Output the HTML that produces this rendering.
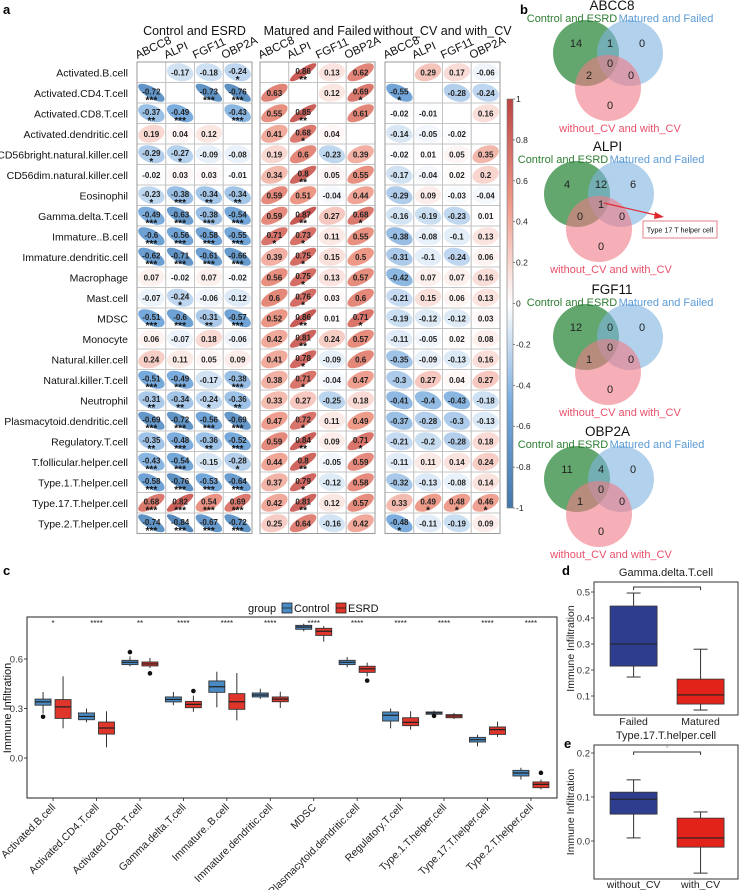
<!DOCTYPE html>
<html><head><meta charset="utf-8"><style>
html,body{margin:0;padding:0;background:#fff;}
svg{display:block;font-family:"Liberation Sans",Arial,sans-serif;}
</style></head><body>
<svg id="fig" width="741" height="890" viewBox="0 0 741 890" xmlns="http://www.w3.org/2000/svg">
<text x="3" y="14" font-size="13" font-weight="bold">a</text>
<text x="520" y="14" font-size="13" font-weight="bold">b</text>
<text x="3" y="575" font-size="13" font-weight="bold">c</text>
<text x="562" y="575" font-size="13" font-weight="bold">d</text>
<text x="564" y="748" font-size="13" font-weight="bold">e</text>
<g id="pa"></g>
<g id="pb"></g>
<g id="pc"></g>
<g id="pd"></g>
<g id="pe"></g>
</svg>
<script>
const rowNames=["Activated.B.cell","Activated.CD4.T.cell","Activated.CD8.T.cell","Activated.dendritic.cell","CD56bright.natural.killer.cell","CD56dim.natural.killer.cell","Eosinophil","Gamma.delta.T.cell","Immature..B.cell","Immature.dendritic.cell","Macrophage","Mast.cell","MDSC","Monocyte","Natural.killer.cell","Natural.killer.T.cell","Neutrophil","Plasmacytoid.dendritic.cell","Regulatory.T.cell","T.follicular.helper.cell","Type.1.T.helper.cell","Type.17.T.helper.cell","Type.2.T.helper.cell"];
const genes=["ABCC8","ALPI","FGF11","OBP2A"];
const panelTitles=["Control and ESRD","Matured and Failed","without_CV and with_CV"];
const corrCE=[[null,-0.17,-0.18,-0.24],[-0.72,null,-0.73,-0.76],[-0.37,-0.49,null,-0.43],[0.19,0.04,0.12,null],[-0.29,-0.27,-0.09,-0.08],[-0.02,0.03,0.03,-0.01],[-0.23,-0.38,-0.34,-0.34],[-0.49,-0.63,-0.38,-0.54],[-0.6,-0.56,-0.58,-0.55],[-0.62,-0.71,-0.61,-0.66],[0.07,-0.02,0.07,-0.02],[-0.07,-0.24,-0.06,-0.12],[-0.51,-0.6,-0.31,-0.57],[0.06,-0.07,0.18,-0.06],[0.24,0.11,0.05,0.09],[-0.51,-0.49,-0.17,-0.38],[-0.31,-0.34,-0.24,-0.36],[-0.69,-0.72,-0.56,-0.69],[-0.35,-0.48,-0.36,-0.52],[-0.43,-0.54,-0.15,-0.28],[-0.58,-0.76,-0.53,-0.64],[0.68,0.82,0.54,0.69],[-0.74,-0.84,-0.67,-0.72]];
const starsCE=[[0,0,0,1],[3,0,3,3],[2,3,0,3],[0,0,0,0],[1,1,0,0],[0,0,0,0],[1,3,2,2],[3,3,3,3],[3,3,3,3],[3,3,3,3],[0,0,0,0],[0,1,0,0],[3,3,2,3],[0,0,0,0],[0,0,0,0],[3,3,0,3],[2,2,1,2],[3,3,3,3],[2,3,2,3],[3,3,0,1],[3,3,3,3],[3,3,3,3],[3,3,3,3]];
const corrMF=[[null,0.86,0.13,0.62],[0.63,null,0.12,0.69],[0.55,0.85,null,0.61],[0.41,0.68,0.04,null],[0.19,0.6,-0.23,0.39],[0.34,0.8,0.05,0.55],[0.59,0.51,-0.04,0.44],[0.59,0.87,0.27,0.68],[0.71,0.73,0.11,0.55],[0.39,0.75,0.15,0.5],[0.56,0.75,0.13,0.57],[0.6,0.76,0.03,0.6],[0.52,0.86,0.01,0.71],[0.42,0.81,0.24,0.57],[0.41,0.78,-0.09,0.6],[0.38,0.71,-0.04,0.47],[0.33,0.27,-0.25,0.18],[0.47,0.72,0.11,0.49],[0.59,0.84,0.09,0.71],[0.44,0.8,-0.05,0.59],[0.37,0.79,-0.12,0.58],[0.42,0.81,0.12,0.57],[0.25,0.64,-0.16,0.42]];
const starsMF=[[0,2,0,0],[0,0,0,1],[0,2,0,0],[0,1,0,0],[0,0,0,0],[0,2,0,0],[0,0,0,0],[0,2,0,1],[1,1,0,0],[0,1,0,0],[0,1,0,0],[0,1,0,0],[0,2,0,1],[0,2,0,0],[0,1,0,0],[0,1,0,0],[0,0,0,0],[0,1,0,0],[0,2,0,1],[0,2,0,0],[0,1,0,0],[0,2,0,0],[0,0,0,0]];
const corrWC=[[null,0.29,0.17,-0.06],[-0.55,null,-0.28,-0.24],[-0.02,-0.01,null,0.16],[-0.14,-0.05,-0.02,null],[-0.02,0.01,0.05,0.35],[-0.17,-0.04,0.02,0.2],[-0.29,0.09,-0.03,-0.04],[-0.16,-0.19,-0.23,0.01],[-0.38,-0.08,-0.1,0.13],[-0.31,-0.1,-0.24,0.06],[-0.42,0.07,0.07,0.16],[-0.21,0.15,0.06,0.13],[-0.19,-0.12,-0.12,0.03],[-0.11,-0.05,0.02,0.08],[-0.35,-0.09,-0.13,0.16],[-0.3,0.27,0.04,0.27],[-0.41,-0.4,-0.43,-0.18],[-0.37,-0.28,-0.3,-0.13],[-0.21,-0.2,-0.28,0.18],[-0.11,0.11,0.14,0.24],[-0.32,-0.13,-0.08,0.14],[0.33,0.49,0.48,0.46],[-0.48,-0.11,-0.19,0.09]];
const starsWC=[[0,0,0,0],[1,0,0,0],[0,0,0,0],[0,0,0,0],[0,0,0,0],[0,0,0,0],[0,0,0,0],[0,0,0,0],[0,0,0,0],[0,0,0,0],[0,0,0,0],[0,0,0,0],[0,0,0,0],[0,0,0,0],[0,0,0,0],[0,0,0,0],[0,0,0,0],[0,0,0,0],[0,0,0,0],[0,0,0,0],[0,0,0,0],[0,1,1,1],[1,0,0,0]];
const colorbarTicks=[1,0.8,0.6,0.4,0.2,0,-0.2,-0.4,-0.6,-0.8,-1];
// venn counts: A only, AB, B only, ABC, AC, BC, C only
const vennTitles=["ABCC8","ALPI","FGF11","OBP2A"];
const vennCounts=[[14,1,0,0,2,0,0],[4,12,6,1,0,0,0],[12,0,0,0,1,0,0],[11,4,0,0,1,0,0]];
// panel c
const cCats=["Activated.B.cell","Activated.CD4.T.cell","Activated.CD8.T.cell","Gamma.delta.T.cell","Immature..B.cell","Immature.dendritic.cell","MDSC","Plasmacytoid.dendritic.cell","Regulatory.T.cell","Type.1.T.helper.cell","Type.17.T.helper.cell","Type.2.T.helper.cell"];
const cSig=["*","****","**","****","****","****","****","****","****","****","****","****"];
const cControl=[[0.27,0.32,0.34,0.357,0.40],[0.216,0.232,0.252,0.273,0.30],[0.556,0.566,0.58,0.592,0.616],[0.32,0.34,0.355,0.37,0.40],[0.307,0.398,0.432,0.467,0.523],[0.358,0.37,0.382,0.394,0.42],[0.768,0.78,0.794,0.804,0.814],[0.55,0.566,0.58,0.592,0.612],[0.18,0.224,0.259,0.279,0.30],[0.255,0.265,0.273,0.279,0.287],[0.071,0.097,0.111,0.125,0.141],[-0.131,-0.109,-0.091,-0.075,-0.059]];
const cESRD=[[0.18,0.24,0.31,0.354,0.495],[0.065,0.145,0.182,0.218,0.283],[0.545,0.558,0.57,0.582,0.606],[0.28,0.305,0.325,0.343,0.378],[0.228,0.295,0.341,0.39,0.515],[0.303,0.341,0.357,0.37,0.402],[0.705,0.743,0.768,0.786,0.80],[0.495,0.519,0.54,0.556,0.578],[0.172,0.196,0.216,0.244,0.283],[0.236,0.244,0.255,0.263,0.273],[0.127,0.143,0.172,0.188,0.22],[-0.19,-0.18,-0.16,-0.145,-0.13]];
const cOutCtrl=[[0.25],[],[0.642],[],[],[],[],[],[],[0.255],[],[]];
const cOutESRD=[[],[],[0.513],[0.406],[],[],[],[0.469],[],[],[],[-0.09]];
const cYTicks=[0.0,0.3,0.6];
const cYTickLabels=["0.0","0.3","0.6"];
// panel d
const dCats=["Failed","Matured"];
const dStats=[[0.173,0.215,0.30,0.446,0.496],[0.046,0.069,0.104,0.165,0.28]];
const dYTicks=[0.1,0.2,0.3,0.4,0.5];
// panel e
const eCats=["without_CV","with_CV"];
const eStats=[[0.007,0.061,0.095,0.111,0.139],[-0.073,-0.014,0.007,0.052,0.066]];
const eYTicks=[0.0,0.1,0.2];

const NS="http://www.w3.org/2000/svg";
function mk(tag,attrs,parent,txt){const e=document.createElementNS(NS,tag);for(const k in attrs)e.setAttribute(k,attrs[k]);if(txt!==undefined)e.textContent=txt;parent.appendChild(e);return e;}
function lerp(a,b,t){return a+(b-a)*t;}
function hex(h){return [parseInt(h.slice(1,3),16),parseInt(h.slice(3,5),16),parseInt(h.slice(5,7),16)];}
const stops=[[-1,"#4477AA"],[-0.5,"#77AADD"],[0,"#FFFFFF"],[0.5,"#EE9988"],[1,"#BB4444"]];
function corrColor(r){for(let i=0;i<stops.length-1;i++){if(r<=stops[i+1][0]){const t=(r-stops[i][0])/(stops[i+1][0]-stops[i][0]);const a=hex(stops[i][1]),b=hex(stops[i+1][1]);return `rgb(${Math.round(lerp(a[0],b[0],t))},${Math.round(lerp(a[1],b[1],t))},${Math.round(lerp(a[2],b[2],t))})`;}}return stops[4][1];}

// ---------- Panel a ----------
const pa=document.getElementById('pa');
const rowTop=62,rowH=20.5,colW=28.75,panelLeft=[137,260,385];
const corrSets=[corrCE,corrMF,corrWC],starSets=[starsCE,starsMF,starsWC];
rowNames.forEach((n,i)=>{const t=mk('text',{x:128,y:rowTop+rowH*i+rowH/2+4,'text-anchor':'end','font-size':10.5,fill:'#111'},pa,n);

});
for(let p=0;p<3;p++){
  const L=panelLeft[p];
  const g=mk('g',{},pa);
  
  
  const tt=mk('text',{x:L+colW*2,y:35,'text-anchor':'middle','font-size':12.5,fill:'#111'},g,panelTitles[p]);
  
  
  genes.forEach((gn,j)=>{const cx=L+colW*j+colW/2;const h=mk('text',{x:cx-14,y:59,'font-size':11.5,fill:'#111',transform:`rotate(-25 ${cx-14} 59)`},g,gn);
  
  });
  for(let i=0;i<23;i++)for(let j=0;j<4;j++){
    const x=L+colW*j,y=rowTop+rowH*i,cx=x+colW/2,cy=y+rowH/2;
    const cell=mk('rect',{x:x,y:y,width:colW,height:rowH,fill:'#fff',stroke:'#c4c4c4','stroke-width':1},g);
    
    
    const r=corrSets[p][i][j];
    if(r===null)continue;
    const rr=Math.max(-0.97,Math.min(0.97,r));
    const eg=mk('g',{transform:`translate(${cx},${cy}) scale(${colW*0.46},${rowH*0.44}) rotate(-45)`},g);
    const el=mk('ellipse',{cx:0,cy:0,rx:Math.sqrt(1+rr),ry:Math.sqrt(1-rr),fill:corrColor(r)},eg);
    
    
    const s=starSets[p][i][j];
    const lbl=String(r);
    const nt=mk('text',{x:cx,y:s?cy+1.5:cy+3,'text-anchor':'middle','font-size':8,'font-weight':'bold',fill:'#222'},g,lbl);
    
    
    if(s){const st=mk('text',{x:cx,y:cy+10.5,'text-anchor':'middle','font-size':10,'font-weight':'bold',fill:'#111'},g,'*'.repeat(s));
    
    }
  }
  const b=mk('rect',{x:L,y:rowTop,width:colW*4,height:rowH*23,fill:'none',stroke:'#999','stroke-width':1},g);
  
  
}
// colorbar
const cbTop=99,cbBot=508,cbX=507,cbW=6;
const defs=mk('defs',{},pa);
const lg=mk('linearGradient',{id:'cbg',x1:0,y1:0,x2:0,y2:1},defs);
stops.slice().reverse().forEach(s=>mk('stop',{offset:((1-s[0])/2*100)+'%','stop-color':s[1]},lg));
const cb=mk('rect',{x:cbX,y:cbTop,width:cbW,height:cbBot-cbTop,fill:'url(#cbg)',stroke:'#777','stroke-width':0.6},pa);


function cbY(v){return cbTop+(1-v)/2*(cbBot-cbTop);}
colorbarTicks.forEach(v=>{const y=cbY(v);mk('line',{x1:cbX+cbW,x2:cbX+cbW+2,y1:y,y2:y,stroke:'#555','stroke-width':0.7},pa);
const t=mk('text',{x:cbX+cbW+3,y:y+3,'font-size':8.5,fill:'#222'},pa,String(v));

});

// ---------- Panel b ----------
const pb=document.getElementById('pb');
const vennOffY=[0,141,284,426],vennShiftX=[0,-9,0,-9];
vennTitles.forEach((ttl,k)=>{
  const oy=vennOffY[k],ox=vennShiftX[k];
  const g=mk('g',{transform:`translate(${ox},${oy})`},pb);
  
  
  const t=mk('text',{x:612-ox*0.5,y:10,'text-anchor':'middle','font-size':13.5,fill:'#111'},g,ttl);
  
  
  const c1=mk('circle',{cx:586,cy:53,r:33,fill:'#2f8a3f','fill-opacity':0.75},g);
  
  
  const c2=mk('circle',{cx:630,cy:53,r:33,fill:'#7fb2e0','fill-opacity':0.6},g);
  
  
  const c3=mk('circle',{cx:608,cy:88,r:33,fill:'#f07a86','fill-opacity':0.6},g);
  
  
  const l1=mk('text',{x:572,y:22,'text-anchor':'middle','font-size':11,fill:'#2e7d32'},g,'Control and ESRD');
  
  
  const l2=mk('text',{x:666,y:22,'text-anchor':'middle','font-size':11,fill:'#5b9bd5'},g,'Matured and Failed');
  
  
  const l3=mk('text',{x:620,y:132,'text-anchor':'middle','font-size':11,fill:'#e8506a'},g,'without_CV and with_CV');
  
  
  const pos=[[576,47],[610,47],[642,47],[610,67],[589,79],[631,79],[610,109]];
  vennCounts[k].forEach((v,q)=>{const n=mk('text',{x:pos[q][0],y:pos[q][1],'text-anchor':'middle','font-size':11,fill:'#222'},g,String(v));
  
  });
});
// ALPI annotation
{const ln=mk('line',{x1:604,y1:203,x2:660,y2:216,stroke:'#e0282e','stroke-width':1.2},pb);


mk('polygon',{points:'664,217 655,212 654,219',fill:'#e0282e'},pb);
const bx=mk('rect',{x:643,y:221,width:74,height:17,fill:'#fff',stroke:'#e0828a','stroke-width':1},pb);


const at=mk('text',{x:680,y:232.5,'text-anchor':'middle','font-size':7.2,fill:'#111'},pb,'Type 17 T helper cell');

}

// ---------- Panel c ----------
const pc=document.getElementById('pc');
const cL=27,cR=557,cT=617,cB=798;
function cy_(v){return 758-165*v;}
const cUnit=(cR-cL)/(cCats.length-1+1.2);
function cx_(i){return cL+cUnit*(0.6+i);}
const legT=mk('text',{x:248,y:612,'font-size':11,fill:'#111'},pc,'group');


[['Control','#4a8ac4',282],['ESRD','#e0352a',336]].forEach(([nm,col,x])=>{
  const r=mk('rect',{x:x,y:603,width:10,height:10,fill:col,stroke:'#222','stroke-width':0.8},pc);
  
  
  mk('line',{x1:x,x2:x+10,y1:608,y2:608,stroke:'#222','stroke-width':0.8},pc);
  const t=mk('text',{x:x+12,y:612,'font-size':11,fill:'#111'},pc,nm);
  
  
});
const frame=mk('rect',{x:cL,y:cT,width:cR-cL,height:cB-cT,fill:'none',stroke:'#222','stroke-width':1},pc);


cYTicks.forEach((v,i)=>{const y=cy_(v);mk('line',{x1:cL-3,x2:cL,y1:y,y2:y,stroke:'#222','stroke-width':0.8},pc);
const t=mk('text',{x:cL-4,y:y+3.5,'text-anchor':'end','font-size':9.5,fill:'#333'},pc,cYTickLabels[i]);

});
const yt=mk('text',{x:11,y:708,'text-anchor':'middle','font-size':11,fill:'#111',transform:'rotate(-90 11 708)'},pc,'Immune Infiltration');


function drawBox(parent,cx,w,s,fill,yf,name){
  const g=mk('g',{},parent);
  
  
  mk('line',{x1:cx,x2:cx,y1:yf(s[0]),y2:yf(s[1]),stroke:'#333','stroke-width':1},g);
  mk('line',{x1:cx,x2:cx,y1:yf(s[3]),y2:yf(s[4]),stroke:'#333','stroke-width':1},g);
  mk('rect',{x:cx-w/2,y:yf(s[3]),width:w,height:Math.max(1,yf(s[1])-yf(s[3])),fill:fill,stroke:'#333','stroke-width':0.9},g);
  mk('line',{x1:cx-w/2,x2:cx+w/2,y1:yf(s[2]),y2:yf(s[2]),stroke:'#222','stroke-width':1.2},g);
  return g;
}
cCats.forEach((c,i)=>{
  const x=cx_(i);
  drawBox(pc,x-10,16,cControl[i],'#4a8ac4',cy_,'box-control');
  drawBox(pc,x+10,16,cESRD[i],'#e0352a',cy_,'box-esrd');
  cOutCtrl[i].forEach(v=>{const o=mk('circle',{cx:x-10,cy:cy_(v),r:2.3,fill:'#111'},pc);
  
  });
  cOutESRD[i].forEach(v=>{const o=mk('circle',{cx:x+10,cy:cy_(v),r:2.3,fill:'#111'},pc);
  
  });
  const sg=mk('text',{x:x,y:626,'text-anchor':'middle','font-size':8,fill:'#222'},pc,cSig[i]);
  
  
  mk('line',{x1:x,x2:x,y1:cB,y2:cB+3,stroke:'#222','stroke-width':0.8},pc);
  const xl=mk('text',{x:x+3,y:cB+10,'text-anchor':'end','font-size':10.5,fill:'#222',transform:`rotate(-45 ${x+3} ${cB+10})`},pc,c);
  
  
});

// ---------- Panels d & e ----------
function smallPanel(id,title,titleY,L,R,T,B,yf,ticks,cats,stats,bracketY,labY){
  const p=document.getElementById(id);
  const tt=mk('text',{x:(L+R)/2,y:titleY,'text-anchor':'middle','font-size':11,fill:'#222'},p,title);
  
  
  const f=mk('rect',{x:L,y:T,width:R-L,height:B-T,fill:'#fff',stroke:'#333','stroke-width':1},p);
  
  
  ticks.forEach(v=>{const y=yf(v);mk('line',{x1:L-3,x2:L,y1:y,y2:y,stroke:'#333','stroke-width':0.8},p);
  const t=mk('text',{x:L-4,y:y+3.5,'text-anchor':'end','font-size':9.5,fill:'#333'},p,v.toFixed(1));
  
  });
  const yt=mk('text',{x:L-20,y:(T+B)/2,'text-anchor':'middle','font-size':10.5,fill:'#222',transform:`rotate(-90 ${L-20} ${(T+B)/2})`},p,'Immune Infiltration');
  
  
  const cxs=[L+(R-L)*0.275,L+(R-L)*0.74];
  const fills=['#2f3d8f','#e2231a'];
  cats.forEach((c,i)=>{
    const s=stats[i],x=cxs[i];
    const g=mk('g',{},p);
    
    
    mk('line',{x1:x,x2:x,y1:yf(s[0]),y2:yf(s[4]),stroke:'#333','stroke-width':1},g);
    mk('line',{x1:x-7,x2:x+7,y1:yf(s[0]),y2:yf(s[0]),stroke:'#333','stroke-width':1},g);
    mk('line',{x1:x-7,x2:x+7,y1:yf(s[4]),y2:yf(s[4]),stroke:'#333','stroke-width':1},g);
    mk('rect',{x:x-23.5,y:yf(s[3]),width:47,height:yf(s[1])-yf(s[3]),fill:fills[i],stroke:'#333','stroke-width':0.8},g);
    mk('line',{x1:x-23.5,x2:x+23.5,y1:yf(s[2]),y2:yf(s[2]),stroke:'#222','stroke-width':1.1},g);
    const xl=mk('text',{x:x,y:labY,'text-anchor':'middle','font-size':10.5,fill:'#222'},p,c);
    
    
  });
  const br=mk('path',{d:`M${cxs[0]} ${bracketY+3} V${bracketY} H${cxs[1]} V${bracketY+3}`,fill:'none',stroke:'#333','stroke-width':1},p);
  
  
  const st=mk('text',{x:(cxs[0]+cxs[1])/2,y:bracketY-2,'text-anchor':'middle','font-size':5,fill:'#888'},p,'*');
  
  
}
smallPanel('pd','Gamma.delta.T.cell',576,594,738,582,715,v=>722-260*v,dYTicks,dCats,dStats,587,725);
smallPanel('pe','Type.17.T.helper.cell',739,594,738,745,879,v=>841-440*v,eYTicks,eCats,eStats,752,888);
</script>
</body></html>
